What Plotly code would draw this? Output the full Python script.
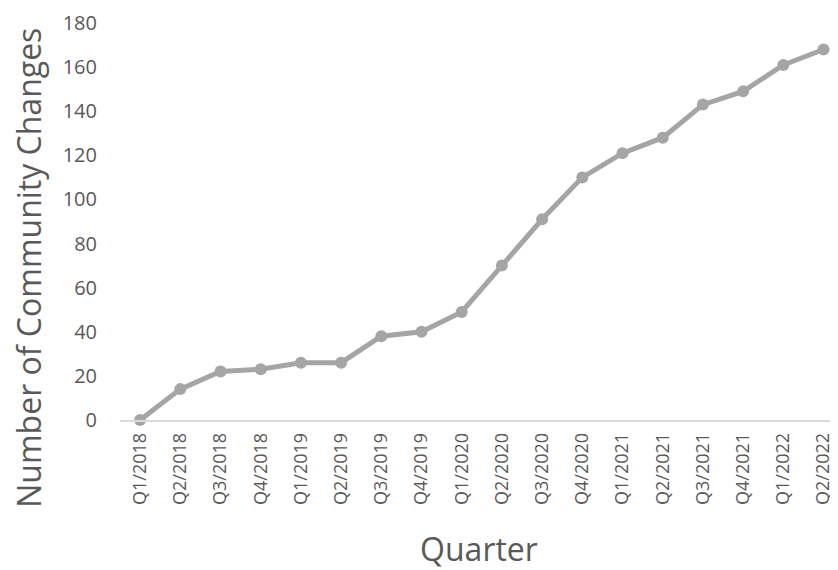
import plotly.graph_objects as go

quarters = ["Q1/2018", "Q2/2018", "Q3/2018", "Q4/2018", "Q1/2019", "Q2/2019",
            "Q3/2019", "Q4/2019", "Q1/2020", "Q2/2020", "Q3/2020", "Q4/2020",
            "Q1/2021", "Q2/2021", "Q3/2021", "Q4/2021", "Q1/2022", "Q2/2022"]
changes = [0, 14, 22, 23, 26, 26, 38, 40, 49, 70, 91, 110, 121, 128, 143, 149, 161, 168]
y_ticks = [0, 20, 40, 60, 80, 100, 120, 140, 160, 180]

FONT = "Open Sans"
TXT = "#595959"

fig = go.Figure()
fig.add_trace(go.Scatter(
    x=quarters, y=changes, mode="lines+markers",
    line=dict(color="#A5A5A5", width=5),
    marker=dict(color="#A5A5A5", size=12),
    cliponaxis=False, showlegend=False,
))

fig.update_layout(
    width=830, height=562,
    margin=dict(l=112, r=0, t=15, b=150),
    paper_bgcolor="white", plot_bgcolor="white",
    font=dict(family=FONT, color=TXT),
    annotations=[dict(
        text="Number of Community Changes", textangle=-90,
        xref="paper", yref="paper", x=-0.127, y=0.383,
        xanchor="center", yanchor="middle", showarrow=False,
        font=dict(size=32, family=FONT, color=TXT),
    )],
)
fig.update_xaxes(
    type="category", range=[-0.5, 17.36],
    tickangle=-90, tickfont=dict(size=18, family=FONT, color=TXT),
    ticklabelstandoff=4,
    showline=True, linecolor="#D9D9D9", linewidth=1.5,
    showgrid=False, zeroline=False, ticks="",
    title=dict(text="Quarter", font=dict(size=32, family=FONT, color=TXT), standoff=40),
    automargin=False,
)
fig.update_yaxes(
    range=[0, 180], tickvals=y_ticks,
    tickfont=dict(size=20, family=FONT, color=TXT),
    ticklabelstandoff=22,
    showline=False, showgrid=False, zeroline=False, ticks="",
    automargin=False,
)

fig.write_html("out.html")
